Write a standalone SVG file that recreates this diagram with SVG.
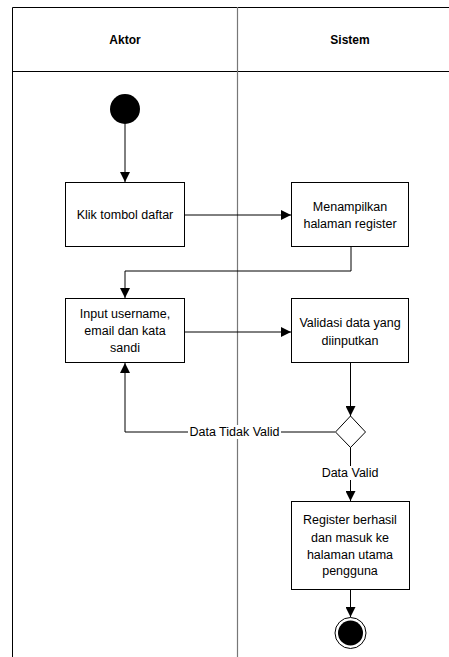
<svg xmlns="http://www.w3.org/2000/svg" width="449" height="657" viewBox="0 0 449 657">
<style>
.t{font-family:"Liberation Sans",Arial,sans-serif;font-size:12.5px;fill:#000;text-anchor:middle;dominant-baseline:central}
.h{font-weight:bold;font-size:12px}
.box{fill:#fff;stroke:#000;stroke-width:1}
.c{fill:none;stroke:#000;stroke-width:1}
</style>
<defs>
<marker id="a" viewBox="0 0 10 10" refX="10" refY="5" markerWidth="10" markerHeight="10" markerUnits="userSpaceOnUse" orient="auto">
<path d="M0,0 L10,5 L0,10 Z" fill="#000"/>
</marker>
</defs>
<rect width="449" height="657" fill="#fff"/>
<g id="lanes">
<path d="M12.5,657 V7.5 H449" fill="none" stroke="#000" stroke-width="1"/>
<path d="M12.5,71.5 H449" fill="none" stroke="#000" stroke-width="1"/>
<path d="M237.5,7 V657" fill="none" stroke="#777" stroke-width="1.2"/>
<text class="t h" x="125" y="40">Aktor</text>
<text class="t h" x="350" y="40">Sistem</text>
</g>
<g id="connectors">
<path class="c" d="M125,124 V182" marker-end="url(#a)"/>
<path class="c" d="M184,215 H291" marker-end="url(#a)"/>
<path class="c" d="M351,247 V271 H125 V298" marker-end="url(#a)"/>
<path class="c" d="M184,332 H291" marker-end="url(#a)"/>
<path class="c" d="M350.5,363 V416" marker-end="url(#a)"/>
<path class="c" d="M335,432 H125 V363" marker-end="url(#a)"/>
<path class="c" d="M350.5,447 V501" marker-end="url(#a)"/>
<path class="c" d="M350.5,589 V617" marker-end="url(#a)"/>
<rect x="188" y="425" width="93" height="14" fill="#fff"/>
<text class="t" x="234.5" y="432">Data Tidak Valid</text>
<rect x="319" y="466" width="62" height="14" fill="#fff"/>
<text class="t" x="350" y="473">Data Valid</text>
</g>
<g id="start"><circle cx="125" cy="109" r="15" fill="#000"/></g>
<g id="n1"><rect class="box" x="65.5" y="182.5" width="119" height="64"/><text class="t" x="125" y="215">Klik tombol daftar</text></g>
<g id="n2"><rect class="box" x="291.5" y="182.5" width="117" height="64"/><text class="t" x="350" y="207">Menampilkan</text><text class="t" x="350" y="224">halaman register</text></g>
<g id="n3"><rect class="box" x="65.5" y="298.5" width="119" height="64"/><text class="t" x="125" y="314">Input username,</text><text class="t" x="125" y="331">email dan kata</text><text class="t" x="125" y="348">sandi</text></g>
<g id="n4"><rect class="box" x="291.5" y="298.5" width="117" height="64"/><text class="t" x="350" y="323">Validasi data yang</text><text class="t" x="350" y="341">diinputkan</text></g>
<g id="dec"><path d="M350.5,416 L365.5,432 L350.5,447.5 L335.5,432 Z" fill="#fff" stroke="#000" stroke-width="1"/></g>
<g id="n5"><rect class="box" x="291.5" y="501.5" width="118" height="88"/><text class="t" x="350" y="520">Register berhasil</text><text class="t" x="350" y="538">dan masuk ke</text><text class="t" x="350" y="555">halaman utama</text><text class="t" x="350" y="571">pengguna</text></g>
<g id="end"><circle cx="350.5" cy="633" r="15.5" fill="#fff" stroke="#000" stroke-width="1"/><circle cx="350.5" cy="633" r="12.5" fill="#000"/></g>
</svg>
